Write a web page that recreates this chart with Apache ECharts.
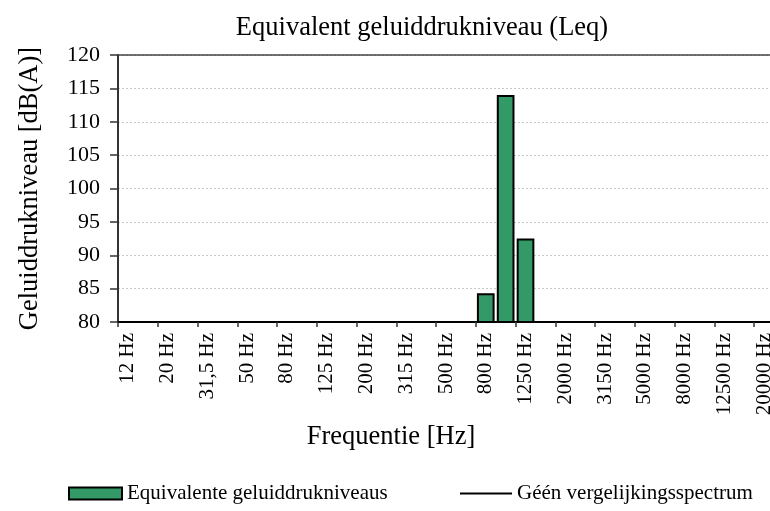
<!DOCTYPE html>
<html>
<head>
<meta charset="utf-8">
<script src="https://cdn.jsdelivr.net/npm/echarts@6/dist/echarts.min.js"></script>
<style>html,body{margin:0;padding:0;background:#fff;overflow:hidden}#c{width:770px;height:511px}</style>
</head>
<body>
<div id="c"></div>
<script>
const categories = ["12 Hz","16 Hz","20 Hz","25 Hz","31,5 Hz","40 Hz","50 Hz","63 Hz","80 Hz","100 Hz","125 Hz","160 Hz","200 Hz","250 Hz","315 Hz","400 Hz","500 Hz","630 Hz","800 Hz","1000 Hz","1250 Hz","1600 Hz","2000 Hz","2500 Hz","3150 Hz","4000 Hz","5000 Hz","6300 Hz","8000 Hz","10000 Hz","12500 Hz","16000 Hz","20000 Hz"];
const leqValues = [80,80,80,80,80,80,80,80,80,80,80,80,80,80,80,80,80,80,84.3,114,92.5,80,80,80,80,80,80,80,80,80,80,80,80];
const comparisonValues = [];
const yTicks = {min: 80, max: 120, interval: 5};

const F = '"Liberation Serif", "DejaVu Serif", serif';
const BAR = 'Equivalente geluiddrukniveaus';
const LINE = 'Géén vergelijkingsspectrum';
const chart = echarts.init(document.getElementById('c'), null, {renderer: 'canvas'});
chart.setOption({
  animation: false,
  backgroundColor: '#fff',
  title: {
    text: 'Equivalent geluiddrukniveau (Leq)',
    left: 417, top: 10, textAlign: 'center',
    textStyle: {fontFamily: F, fontSize: 26.5, fontWeight: 'normal', color: '#000'}
  },
  legend: [{
    left: 68, top: 483, itemWidth: 53, itemHeight: 12, padding: 0,
    textStyle: {fontFamily: F, fontSize: 21, color: '#000'},
    data: [{name: BAR, icon: 'rect', itemStyle: {color: '#339966', borderColor: '#000', borderWidth: 2}}]
  }, {
    left: 460, top: 483, itemWidth: 52, itemHeight: 2, padding: 0,
    textStyle: {fontFamily: F, fontSize: 21, color: '#000'},
    data: [{name: LINE, icon: 'rect', itemStyle: {color: '#000', borderWidth: 0}}]
  }],
  grid: {left: 118, width: 656, top: 55, bottom: 189, containLabel: false, outerBoundsMode: 'none'},
  xAxis: [{
    type: 'category', data: categories, position: 'bottom',
    name: 'Frequentie [Hz]', nameLocation: 'middle', nameGap: 102,
    nameTextStyle: {fontFamily: F, fontSize: 26.5, color: '#000', padding: [0, 110, 0, 0]},
    axisLine: {lineStyle: {color: '#000', width: 2}},
    axisTick: {show: true, length: 5, lineStyle: {color: '#333', width: 1.5}, alignWithLabel: false},
    axisLabel: {rotate: 90, interval: 1, margin: 11, fontFamily: F, fontSize: 21, color: '#000'},
    splitLine: {show: false}
  }, {
    type: 'category', data: categories, position: 'top',
    axisLine: {show: true, lineStyle: {color: '#444', width: 1.5}},
    axisTick: {show: false}, axisLabel: {show: false}, splitLine: {show: false}
  }],
  yAxis: {
    type: 'value', min: yTicks.min, max: yTicks.max, interval: yTicks.interval,
    name: 'Geluiddrukniveau [dB(A)]', nameLocation: 'middle', nameGap: 74, nameRotate: 90,
    nameTextStyle: {fontFamily: F, fontSize: 26.5, color: '#000'},
    axisLine: {show: true, lineStyle: {color: '#333', width: 2}},
    axisTick: {show: true, inside: false, length: 8, lineStyle: {color: '#333', width: 1.5}},
    axisLabel: {fontFamily: F, fontSize: 22, color: '#000', margin: 18},
    splitLine: {show: true, lineStyle: {color: '#c8c8c8', type: [2, 2], width: 1}}
  },
  series: [{
    name: BAR, type: 'bar', data: leqValues,
    barCategoryGap: '11%',
    itemStyle: {color: '#339966', borderColor: '#000', borderWidth: 2}
  }, {
    name: LINE, type: 'line', data: comparisonValues,
    symbol: 'none', lineStyle: {color: '#000', width: 2}, itemStyle: {color: '#000'}
  }]
});
</script>
</body>
</html>
